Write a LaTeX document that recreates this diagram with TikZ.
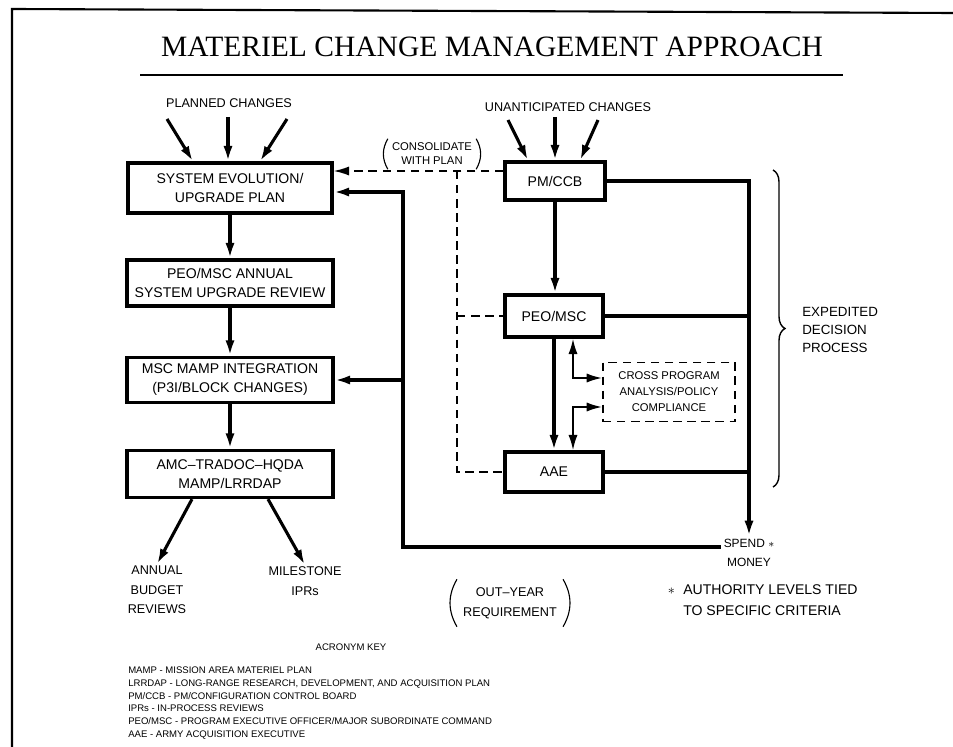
\documentclass[tikz,border=0pt]{standalone}
\usepackage{fontspec}
\setmainfont{Liberation Sans}
\newfontfamily\titlefont{Liberation Serif}
\usetikzlibrary{arrows.meta,calc,decorations.pathreplacing}

\begin{document}
\begin{tikzpicture}[x=0.025cm,y=-0.025cm]
\tikzset{
    box/.style={draw, line width=\lw, inner sep=0pt, align=center, font=\fontsize{10}{13.5}\selectfont},
    boxD/.style={draw, line width=1.1pt, dash pattern=on 6pt off 4pt, inner sep=0pt, align=center, font=\fontsize{8}{11.4}\selectfont},
    flow/.style={line width=\lw, ->},
    flowB/.style={line width=1.4pt, <->},
    flowD/.style={line width=1.2pt, dash pattern=on 6pt off 4pt},
    rail/.style={line width=\lw},
    txt/.style={inner sep=0pt, align=center, font=\fontsize{9}{12.8}\selectfont},
    txtS/.style={inner sep=0pt, align=center, font=\fontsize{8}{10}\selectfont},
    key/.style={inner sep=0pt, align=left, font=\fontsize{6.8}{9}\selectfont},
    paren/.style={line width=0.8pt},
    >={Latex[length=11pt,width=6.5pt]}}
\def\lw{2.2pt}

\useasboundingbox (0,0) rectangle (953,747);
\draw[line width=1.5pt] (12,747) -- (12,9) -- (953,13);

\node[inner sep=0pt, anchor=base, font=\titlefont\fontsize{21}{24}\selectfont] (title) at (492,57) {MATERIEL CHANGE MANAGEMENT APPROACH};
\draw[line width=1.8pt] (140,75) -- (843,75);

\node[box, minimum width=5.1cm, minimum height=1.25cm] (sysevo) at (230,188) {SYSTEM EVOLUTION/\\UPGRADE PLAN};
\node[box, minimum width=5.15cm, minimum height=1.15cm] (peoann) at (230,283) {PEO/MSC ANNUAL\\SYSTEM UPGRADE REVIEW};
\node[box, minimum width=5.15cm, minimum height=1.13cm] (mamp) at (230,380) {MSC MAMP INTEGRATION\\(P3I/BLOCK CHANGES)};
\node[box, minimum width=5.15cm, minimum height=1.18cm] (amc) at (230,474) {AMC--TRADOC--HQDA\\MAMP/LRRDAP};

\node[box, minimum width=2.5cm, minimum height=0.95cm] (pmccb) at (555,181) {PM/CCB};
\node[box, minimum width=2.45cm, minimum height=1.05cm] (peomsc) at (554,316) {PEO/MSC};
\node[box, minimum width=2.45cm, minimum height=1cm] (aae) at (554,472) {AAE};
\node[boxD, minimum width=3.3cm, minimum height=1.48cm] (cross) at (669,392) {CROSS PROGRAM\\ANALYSIS/POLICY\\COMPLIANCE};

\node[txt] (planned) at (229,103) {PLANNED CHANGES};
\node[txt] (unant) at (568,107) {UNANTICIPATED CHANGES};
\node[txtS] (consol) at (432,154) {CONSOLIDATE\\WITH PLAN};
\node[txt, align=left, anchor=west, font=\fontsize{9.5}{12.8}\selectfont] (exped) at (802,330) {EXPEDITED\\DECISION\\PROCESS};
\node[txtS, inner sep=2pt, font=\fontsize{8.5}{13.5}\selectfont] (spend) at (749,553) {SPEND $\ast$\\MONEY};
\node[txt, align=left, anchor=west, font=\fontsize{10}{15}\selectfont] (auth) at (683,600) {\llap{$\ast$\hspace{6pt}}AUTHORITY LEVELS TIED\\TO SPECIFIC CRITERIA};
\node[txt, inner sep=1pt, font=\fontsize{9}{14}\selectfont] (annual) at (157,590) {ANNUAL\\BUDGET\\REVIEWS};
\node[txt, inner sep=1pt, font=\fontsize{9}{14}\selectfont] (milestone) at (305,581) {MILESTONE\\IPRs};
\node[txt, font=\fontsize{9}{14}\selectfont] (outyr) at (510,603) {OUT--YEAR\\REQUIREMENT};

\node[key] (keyhead) at (351,647) {ACRONYM KEY};
\node[key, anchor=north west] (keylist) at (128,667) {MAMP - MISSION AREA MATERIEL PLAN\\
LRRDAP - LONG-RANGE RESEARCH, DEVELOPMENT, AND ACQUISITION PLAN\\
PM/CCB - PM/CONFIGURATION CONTROL BOARD\\
IPRs - IN-PROCESS REVIEWS\\
PEO/MSC - PROGRAM EXECUTIVE OFFICER/MAJOR SUBORDINATE COMMAND\\
AAE - ARMY ACQUISITION EXECUTIVE};

\path (167,119) coordinate(P1) (228,117) coordinate(P2) (287,119) coordinate(P3);
\path (508,120) coordinate(U1) (555,117) coordinate(U2) (598,120) coordinate(U3);
\path (403,547) coordinate(OY) (457,171) coordinate(DV);
\path ($(pmccb.west)+(0,-10)$) coordinate(DC);

\draw[flow] (P1) -- ($(sysevo.north)+(-37,0)$);
\draw[flow] (P2) -- (P2 |- sysevo.north);
\draw[flow] (P3) -- ($(sysevo.north)+(30,0)$);
\draw[flow] (U1) -- ($(pmccb.north)+(-27,0)$);
\draw[flow] (U2) -- (U2 |- pmccb.north);
\draw[flow] (U3) -- ($(pmccb.north)+(25,0)$);

\draw[flow] (sysevo) -- (peoann);
\draw[flow] (peoann) -- (mamp);
\draw[flow] (mamp) -- (amc);
\draw[flow] ($(amc.south)+(-38,0)$) -- (annual.north);
\draw[flow] ($(amc.south)+(38,0)$) -- (milestone.north);

\draw[flow] (pmccb.south) -- (pmccb.south |- peomsc.north);
\draw[flow] (peomsc) -- (aae);
\draw[flowB] ($(peomsc.south)+(19,0)$) |- ($(cross.west)+(0,-14)$);
\draw[flowB] ($(aae.north)+(19,0)$) |- ($(cross.west)+(0,15)$);

\draw[flow] (pmccb.east) -| (spend.north);
\draw[rail] (peomsc.east) -- (peomsc.east -| spend.north);
\draw[rail] (aae.east) -- (aae.east -| spend.north);

\draw[flow] (spend.west |- OY) -- (OY) |- ($(sysevo.east)+(0,4)$);
\draw[flow] (OY |- mamp.east) -- (mamp.east);

\draw[flowD, ->] (DC) -- (DC -| sysevo.east);
\draw[flowD] (DV) |- (aae.west);
\draw[flowD] (DV |- peomsc.west) -- (peomsc.west);

\draw[line width=1pt, decorate, decoration={brace, amplitude=0.3cm}] (773,170) -- (773,487);

\draw[paren] ($(consol.north west)+(-4,-4)$) to[bend right=30] ($(consol.south west)+(-4,4)$);
\draw[paren] ($(consol.north east)+(4,-4)$) to[bend left=30] ($(consol.south east)+(4,4)$);
\draw[paren] ($(outyr.north west)+(-6,-8)$) to[bend right=30] ($(outyr.south west)+(-6,8)$);
\draw[paren] ($(outyr.north east)+(6,-8)$) to[bend left=30] ($(outyr.south east)+(6,8)$);

\end{tikzpicture}
\end{document}
